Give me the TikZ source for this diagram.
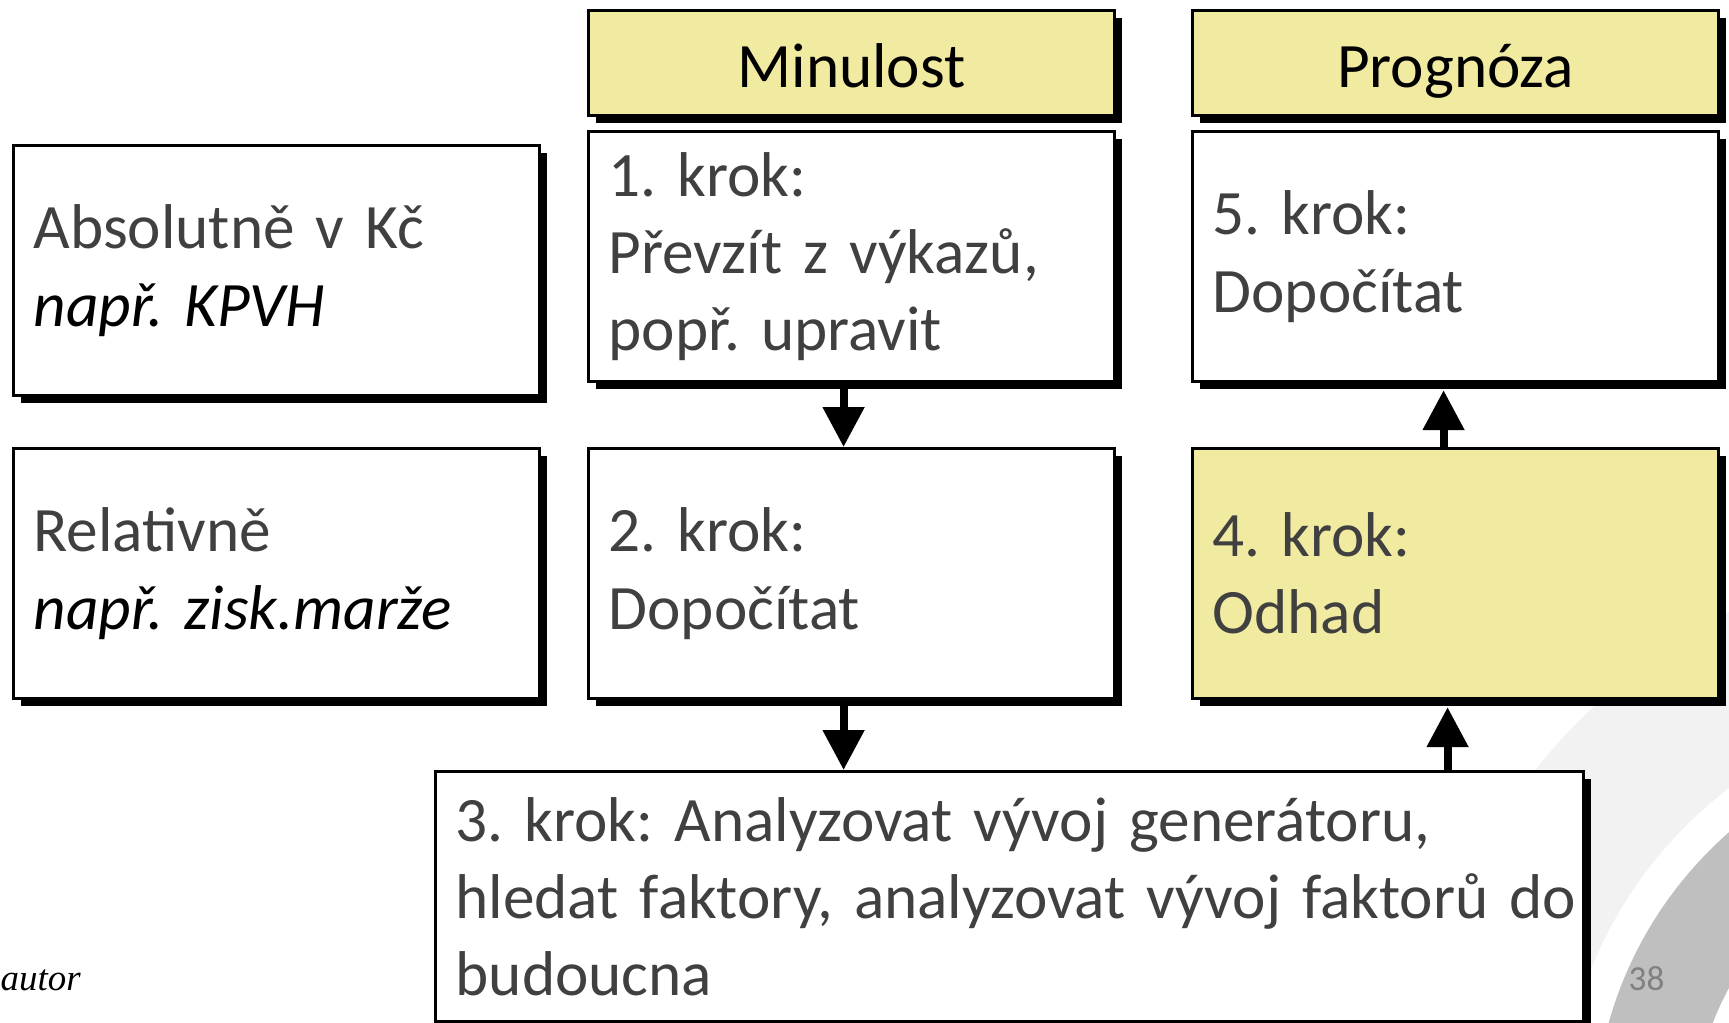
\documentclass[tikz,border=0pt]{standalone}
\usepackage{fontspec}
\setmainfont{Carlito}
\newfontfamily\timesfont{Liberation Serif}
\usetikzlibrary{arrows.meta,shadows}
\definecolor{boxyellow}{HTML}{F1EAA1}
\definecolor{txtgray}{HTML}{404040}
\frenchspacing
\newcommand\boxfont{\fontsize{18}{22}\selectfont\fontdimen2\font=3pt\relax}

\begin{document}
\begin{tikzpicture}[x=0.1mm,y=-0.1mm,
  box/.style={draw=black,line width=0.9pt,fill=white,anchor=north west,
    text width=48.6mm,inner xsep=2mm,inner ysep=0pt,minimum height=25mm,
    align=left,text=txtgray,font=\boxfont,
    drop shadow={shadow xshift=0.7mm,shadow yshift=-0.7mm,fill=black,opacity=1}},
  head/.style={box,fill=boxyellow,minimum height=10.5mm,align=center,text=black,
    text height=5.4mm,text depth=0.6mm},
  flow/.style={line width=2.3pt,-{Triangle[width=4mm,length=4mm]}}]
\useasboundingbox (0,0) rectangle (1729,1023);

\fill[black!5] (1990,1130) circle (58mm);
\fill[white] (1990,1130) circle (43mm);
\fill[gray!50] (1990,1130) circle (39.6mm);
\fill[white] (1990,1130) circle (29.7mm);

\node[head] (hm) at (587,9) {Minulost};
\node[head] (hp) at (1191,9) {Prognóza};

\node[box] (ba) at (12,144) {Absolutně v Kč\\{\color{black}\itshape\fontdimen2\font=3pt např. KPVH}};
\node[box] (br) at (12,447) {Relativně\\{\color{black}\itshape\fontdimen2\font=3pt např. zisk.marže}};

\node[box] (b1) at (587,130) {1. krok:\\Převzít z výkazů,\\popř. upravit};
\node[box] (b2) at (587,447) {2. krok:\\Dopočítat};
\node[box] (b5) at (1191,130) {5. krok:\\Dopočítat};
\node[box,fill=boxyellow] (b4) at (1191,447) {4. krok:\\Odhad};
\node[box,text width=110.8mm] (b3) at (434,770) {\mbox{3. krok: Analyzovat vývoj generátoru,}\\\mbox{hledat faktory, analyzovat vývoj faktorů do}\\budoucna};

\draw[flow] ([xshift=-0.8mm]b1.south) -- ([xshift=-0.8mm]b2.north);
\draw[flow] ([xshift=-0.8mm]b2.south) -- ([xshift=-0.8mm]b2.south |- b3.north);
\draw[flow] ([xshift=-0.8mm]b4.south |- b3.north) -- ([xshift=-0.8mm,yshift=-0.7mm]b4.south);
\draw[flow] ([xshift=-1.2mm]b4.north) -- ([xshift=-1.2mm,yshift=-0.7mm]b5.south);

\node[anchor=base west,inner sep=0pt,font=\timesfont\itshape\fontsize{10.5}{12}\selectfont] (src) at (0,990) {autor};
\node[anchor=base west,inner sep=0pt,text=black!50,font=\fontsize{10}{12}\selectfont] (pg) at (1628,990) {38};
\end{tikzpicture}
\end{document}
